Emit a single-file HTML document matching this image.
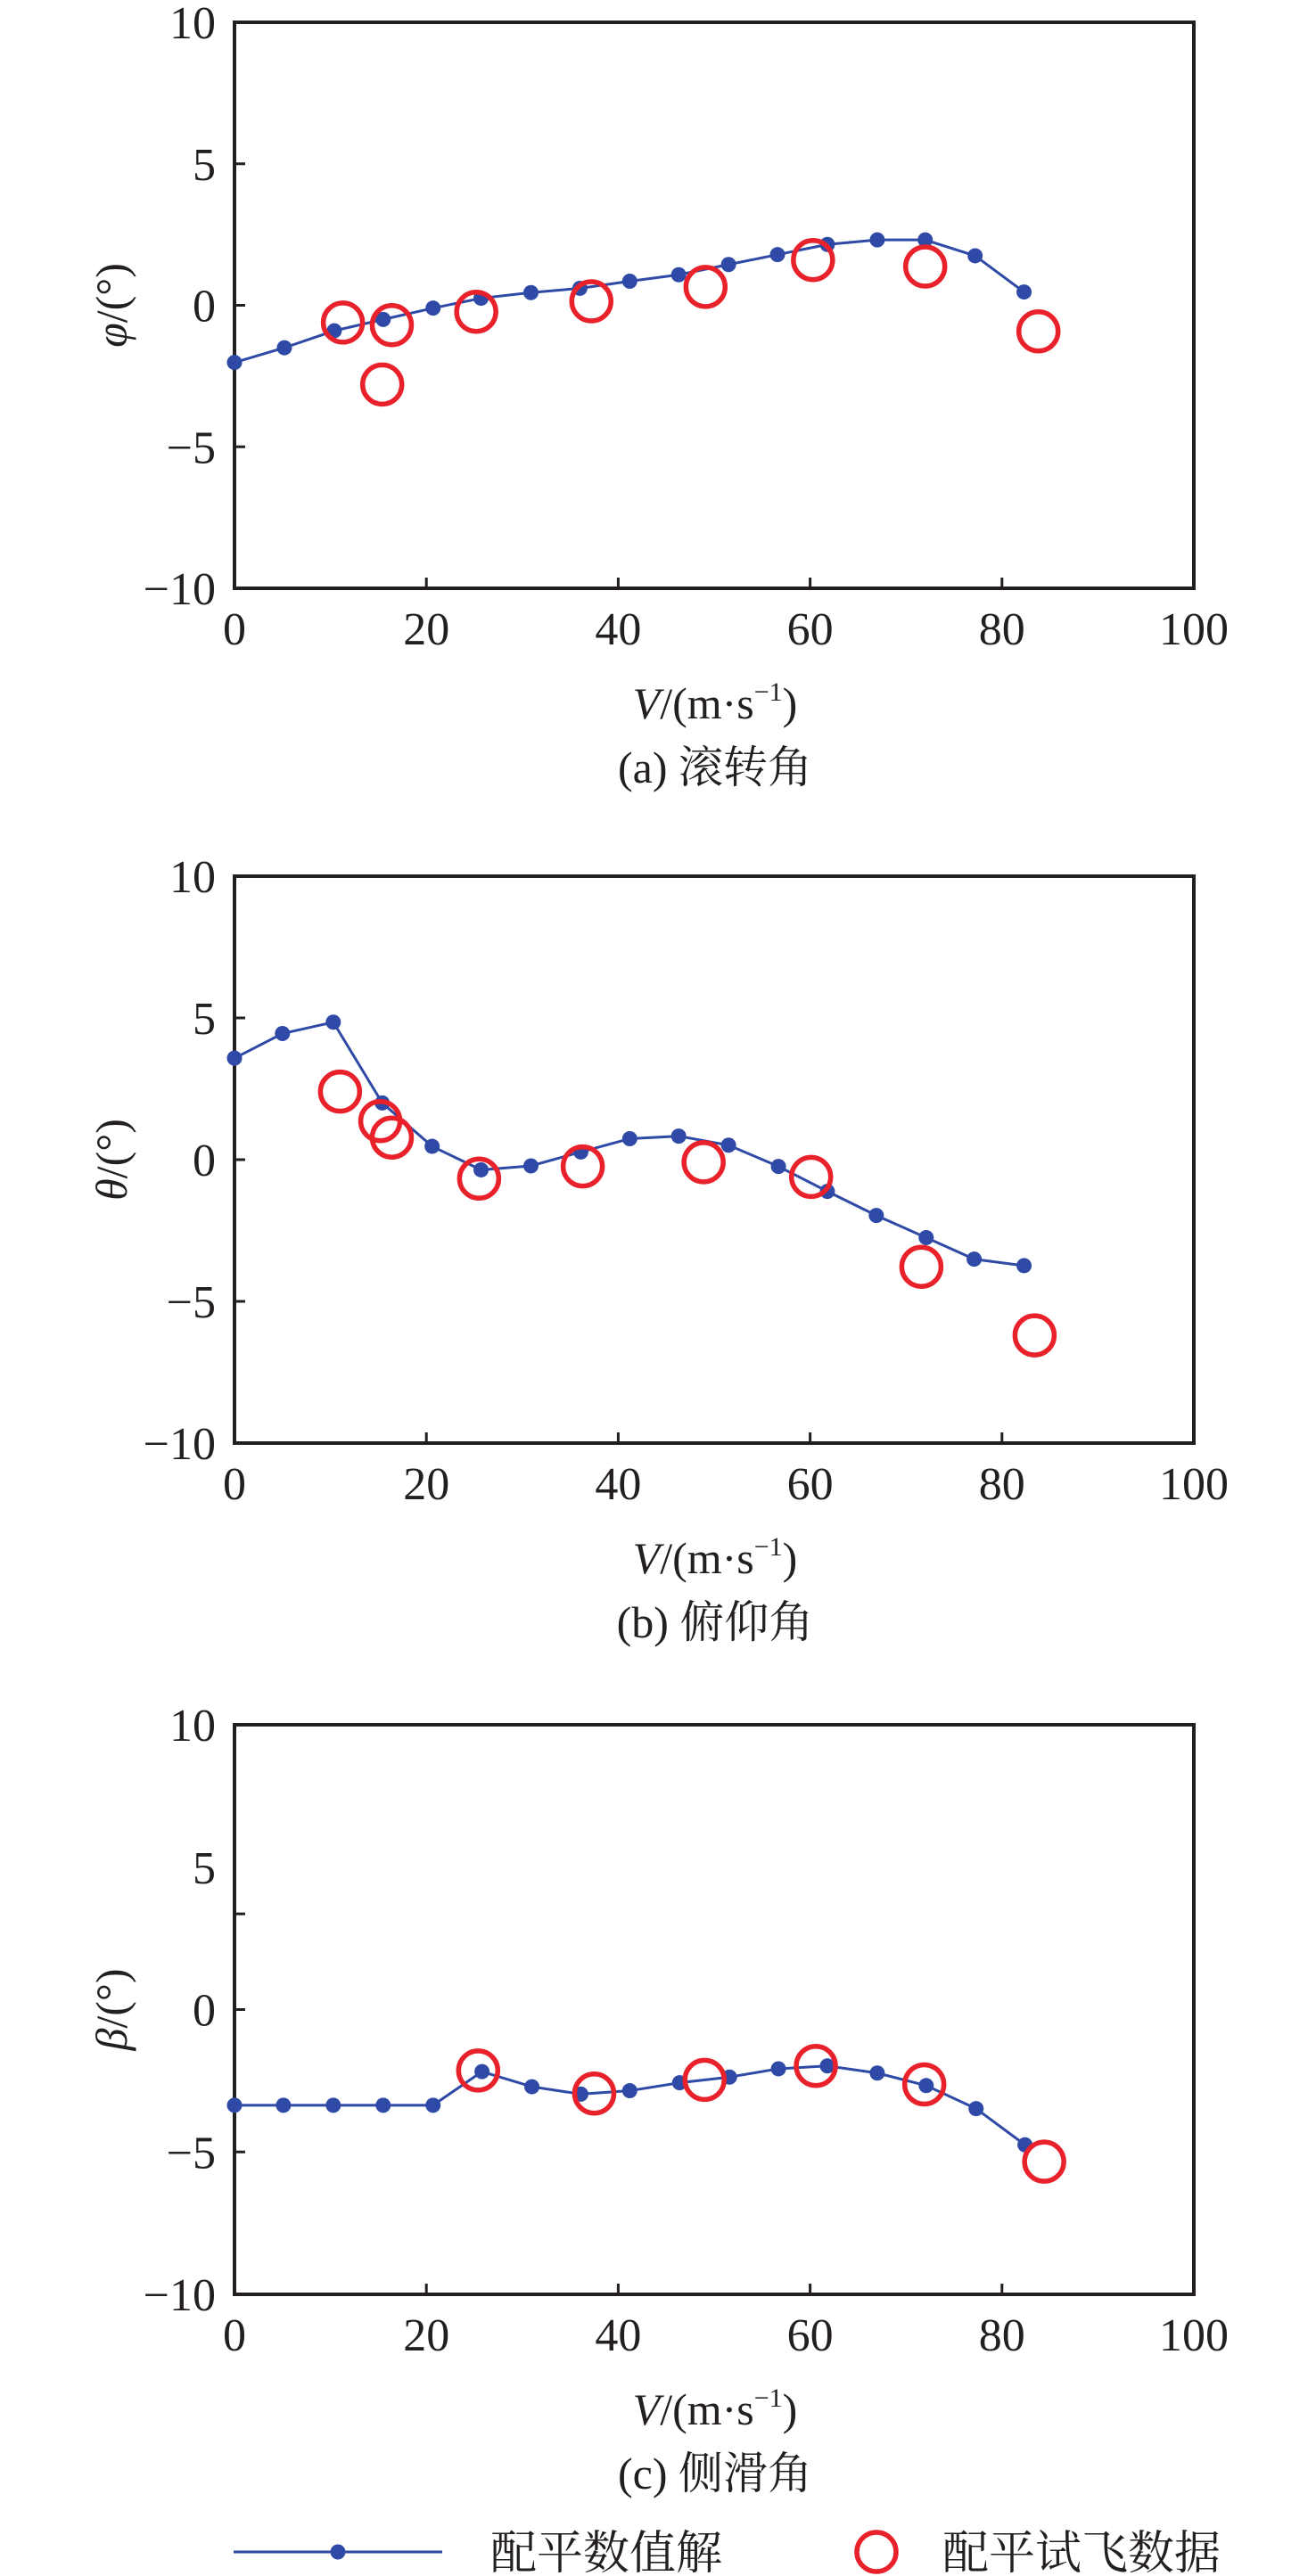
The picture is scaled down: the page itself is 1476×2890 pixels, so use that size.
<!DOCTYPE html>
<html><head><meta charset="utf-8"><style>
html,body{margin:0;padding:0;background:#fff;}
svg{display:block;font-family:"Liberation Serif","Noto Serif CJK SC",serif;}
</style></head><body>
<svg id="fig" width="1476" height="2890" viewBox="0 0 1476 2890" xmlns="http://www.w3.org/2000/svg"></svg>
<script>
const xTicks = [0,20,40,60,80,100];
const yTicks = [10,5,0,-5,-10];
const rollV = [0,5.2,10.4,15.5,20.7,25.7,30.9,36,41.2,46.3,51.5,56.6,61.8,67,72,77.2,82.3];
const rollSol = [-2.02,-1.5,-0.9,-0.5,-0.1,0.25,0.45,0.6,0.85,1.08,1.44,1.79,2.15,2.31,2.31,1.75,0.47];
const rollFlightV = [11.3,16.4,15.4,25.2,37.2,49.1,60.3,72,83.8];
const rollFlight = [-0.61,-0.7,-2.8,-0.23,0.14,0.65,1.6,1.37,-0.92];
const pitchV = [0,5,10.3,15.4,20.6,25.7,30.9,36.1,41.2,46.3,51.5,56.7,61.8,66.9,72.1,77.1,82.3];
const pitchSol = [3.58,4.45,4.85,2.0,0.47,-0.36,-0.22,0.27,0.74,0.83,0.51,-0.24,-1.12,-1.97,-2.75,-3.51,-3.74];
const pitchFlightV = [11,15.2,16.4,25.5,36.3,48.9,60.1,71.6,83.4];
const pitchFlight = [2.4,1.36,0.78,-0.67,-0.24,-0.09,-0.61,-3.78,-6.2];
const slipV = [0,5.1,10.3,15.5,20.7,25.8,31,36.1,41.2,46.4,51.6,56.7,61.8,67,72.1,77.3,82.4];
const slipSol = [-3.36,-3.36,-3.36,-3.36,-3.36,-2.18,-2.71,-2.97,-2.85,-2.57,-2.37,-2.08,-1.98,-2.23,-2.67,-3.48,-4.75];
const slipFlightV = [25.4,37.5,49,60.6,71.9,84.4];
const slipFlight = [-2.14,-2.95,-2.47,-1.98,-2.63,-5.34];

const NS='http://www.w3.org/2000/svg';
const svg=document.getElementById('fig');
function mk(tag,attrs,parent,text){const e=document.createElementNS(NS,tag);for(const k in attrs)e.setAttribute(k,attrs[k]);if(text!==undefined)e.textContent=text;(parent||svg).appendChild(e);return e;}

const L=263,R=1339;
const panels=[
 {key:'roll',top:25,bot:660,yl:'φ',cap:'(a) 滚转角',xs:rollV,ys:rollSol,fx:rollFlightV,fy:rollFlight,yt:[5,0,-5]},
 {key:'pitch',top:983,bot:1619,yl:'θ',cap:'(b) 俯仰角',xs:pitchV,ys:pitchSol,fx:pitchFlightV,fy:pitchFlight,yt:[5,0,-5]},
 {key:'slip',top:1935,bot:2574,yl:'β',cap:'(c) 侧滑角',xs:slipV,ys:slipSol,fx:slipFlightV,fy:slipFlight,yt:[3.36,0,-5]}
];
panels.forEach(p=>{
 const g=mk('g',{});
 
 
 const X=v=>L+(v/100)*(R-L);
 const Y=v=>p.bot-((v+10)/20)*(p.bot-p.top);
 const frame=mk('rect',{x:L,y:p.top,width:R-L,height:p.bot-p.top,fill:'none',stroke:'#231f20','stroke-width':4},g);
 
 
 xTicks.forEach(t=>{
  if(t>0&&t<100){const tk=mk('line',{x1:X(t),x2:X(t),y1:p.bot,y2:p.bot-12,stroke:'#231f20','stroke-width':3},g);
   
   }
  const tl=mk('text',{x:X(t),y:p.bot+63,'font-size':52,'text-anchor':'middle',fill:'#231f20'},g,String(t));
  
  
 });
 p.yt.forEach(t=>{
  const tk=mk('line',{x1:L,x2:L+12,y1:Y(t),y2:Y(t),stroke:'#231f20','stroke-width':3},g);
  
  
 });
 yTicks.forEach(t=>{
  const tl=mk('text',{x:242,y:Y(t)+18,'font-size':52,'text-anchor':'end',fill:'#231f20'},g,t<0?'−'+Math.abs(t):String(t));
  
  
 });
 const cy=(p.top+p.bot)/2;
 const yt=mk('text',{x:0,y:0,'font-size':50,'text-anchor':'middle',fill:'#231f20',transform:`translate(142 ${cy}) rotate(-90)`},g);
 
 
 mk('tspan',{'font-style':'italic'},yt,p.yl);mk('tspan',{},yt,'/(°)');
 const xt=mk('text',{x:802,y:p.bot+146,'font-size':50,'text-anchor':'middle',fill:'#231f20'},g);
 
 
 mk('tspan',{'font-style':'italic'},xt,'V');mk('tspan',{},xt,'/(m·s');mk('tspan',{'font-size':30,dy:-20},xt,'−1');mk('tspan',{dy:20},xt,')');
 const cap=mk('text',{x:802,y:p.bot+218,'font-size':50,'text-anchor':'middle',fill:'#231f20'},g,p.cap);
 
 
 const pts=p.xs.map((v,i)=>X(v)+','+Y(p.ys[i])).join(' ');
 const line=mk('polyline',{points:pts,fill:'none',stroke:'#2e4aa6','stroke-width':3},g);
 
 
 p.xs.forEach((v,i)=>{
  const d=mk('circle',{cx:X(v),cy:Y(p.ys[i]),r:8.5,fill:'#2e4aa6'},g);
  
  
 });
 p.fx.forEach((v,i)=>{
  const c=mk('circle',{cx:X(v),cy:Y(p.fy[i]),r:22,fill:'none',stroke:'#e8212a','stroke-width':5.5},g);
  
  
 });
});
const lg=mk('g',{});


const l1=mk('line',{x1:262,x2:496,y1:2863,y2:2863,stroke:'#2e4aa6','stroke-width':3},lg);


const d1=mk('circle',{cx:379,cy:2863,r:8.5,fill:'#2e4aa6'},lg);


const t1=mk('text',{x:550,y:2882,'font-size':52,fill:'#231f20'},lg,'配平数值解');


const c2=mk('circle',{cx:983,cy:2863,r:22,fill:'none',stroke:'#e8212a','stroke-width':5.5},lg);


const t2=mk('text',{x:1057,y:2882,'font-size':52,fill:'#231f20'},lg,'配平试飞数据');


</script>
</body></html>
